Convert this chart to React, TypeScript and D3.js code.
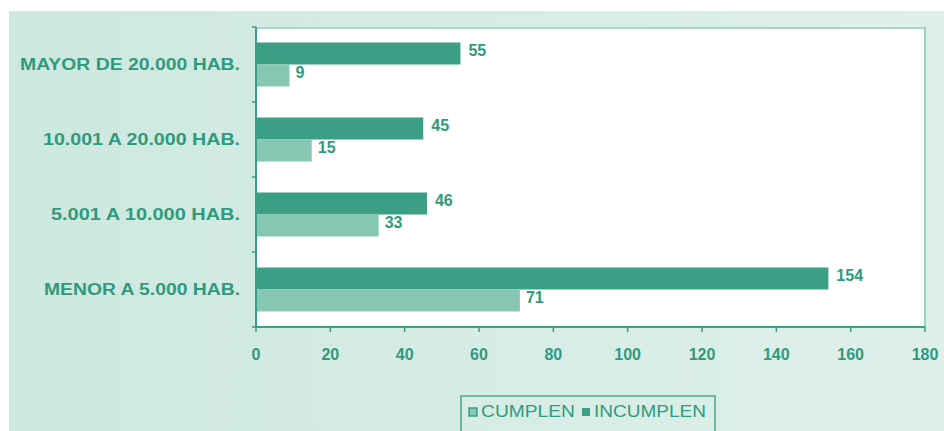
import React from "react";
import * as d3 from "d3";

const categories = ["MAYOR DE 20.000 HAB.", "10.001 A 20.000 HAB.", "5.001 A 10.000 HAB.", "MENOR A 5.000 HAB."];
const incumplen = [55, 45, 46, 154];
const cumplen = [9, 15, 33, 71];
const xTicks = [0, 20, 40, 60, 80, 100, 120, 140, 160, 180];
const seriesNames = ["CUMPLEN", "INCUMPLEN"];

const W = 944;
const H = 431;
const left = 256;
const right = 925;
const top = 27;
const bottom = 327;
const dark = "#3a9f84";
const light = "#86c7b4";
const textCol = "#2f9b7d";
const font = "'Liberation Sans', Arial, sans-serif";

export default function App() {
  const x = d3.scaleLinear().domain([0, 180]).range([left, right]);
  const y = d3.scaleBand<string>().domain(categories).range([top, bottom]);
  const bw = y.bandwidth();
  const barH = 22;
  const labelWidths = [220, 197, 189, 196];

  return (
    <div style={{ position: "absolute", left: 0, top: 0 }}>
      <svg width={W} height={H} style={{ display: "block" }}>
        <defs>
          <linearGradient id="bg" x1="0" x2="1" y1="0" y2="0">
            <stop offset="0" stopColor="#cde8df" />
            <stop offset="1" stopColor="#dff0eb" />
          </linearGradient>
        </defs>
        <rect x={0} y={0} width={W} height={H} fill="#ffffff" />
        <rect x={9} y={11} width={W - 9} height={H - 11} fill="url(#bg)" />
        <rect x={left} y={top} width={right - left} height={bottom - top} fill="#ffffff" />
        <line x1={left} x2={right} y1={top + 1} y2={top + 1} stroke="#a9d6c9" strokeWidth={2} />
        <line x1={right} x2={right} y1={top} y2={bottom} stroke="#9fd1c3" strokeWidth={2} />

        {categories.map((c, i) => {
          const y0 = (y(c) as number) + bw / 2 - barH;
          return (
            <g key={c}>
              <rect x={x(0)} y={y0} width={x(incumplen[i]) - x(0)} height={barH} fill={dark} />
              <rect x={x(0)} y={y0 + barH} width={x(cumplen[i]) - x(0)} height={barH} fill={light} />
              <text x={x(incumplen[i]) + 8} y={y0 + barH / 2 - 2} dominantBaseline="middle" fill={textCol}
                fontFamily={font} fontWeight="bold" fontSize={16}>{incumplen[i]}</text>
              <text x={x(cumplen[i]) + 6} y={y0 + barH + barH / 2 - 2} dominantBaseline="middle" fill={textCol}
                fontFamily={font} fontWeight="bold" fontSize={16}>{cumplen[i]}</text>
              <text x={240} y={(y(c) as number) + bw / 2 + 1} textAnchor="end" dominantBaseline="middle" fill={textCol}
                fontFamily={font} fontWeight="bold" fontSize={16} textLength={labelWidths[i]} lengthAdjust="spacingAndGlyphs">{c}</text>
            </g>
          );
        })}

        {/* y axis */}
        <line x1={left} x2={left} y1={top} y2={bottom} stroke={dark} strokeWidth={2} />
        {[...categories.map((c) => y(c) as number), bottom].map((v, i) => (
          <line key={i} x1={left - 4} x2={left} y1={v} y2={v} stroke={dark} strokeWidth={1.5} />
        ))}
        {/* x axis */}
        <line x1={left} x2={right} y1={bottom} y2={bottom} stroke={dark} strokeWidth={2} />
        {xTicks.map((t) => (
          <g key={t}>
            <line x1={x(t)} x2={x(t)} y1={bottom} y2={bottom + 5} stroke={dark} strokeWidth={1.5} />
            <text x={x(t)} y={356} textAnchor="middle" dominantBaseline="middle" fill={textCol}
              fontFamily={font} fontWeight="bold" fontSize={16}>{t}</text>
          </g>
        ))}

        {/* legend */}
        <rect x={461} y={396} width={254} height={40} fill="none" stroke="#4aa88f" strokeWidth={1.5} />
        <rect x={469} y={408} width={8} height={8} fill={light} stroke={dark} strokeWidth={1.5} />
        <text x={481} y={413} dominantBaseline="middle" fill={textCol} fontFamily={font} fontSize={16}
          textLength={94} lengthAdjust="spacingAndGlyphs">{seriesNames[0]}</text>
        <rect x={582} y={408} width={8} height={8} fill={dark} />
        <text x={594} y={413} dominantBaseline="middle" fill={textCol} fontFamily={font} fontSize={16}
          textLength={112} lengthAdjust="spacingAndGlyphs">{seriesNames[1]}</text>
      </svg>
    </div>
  );
}
